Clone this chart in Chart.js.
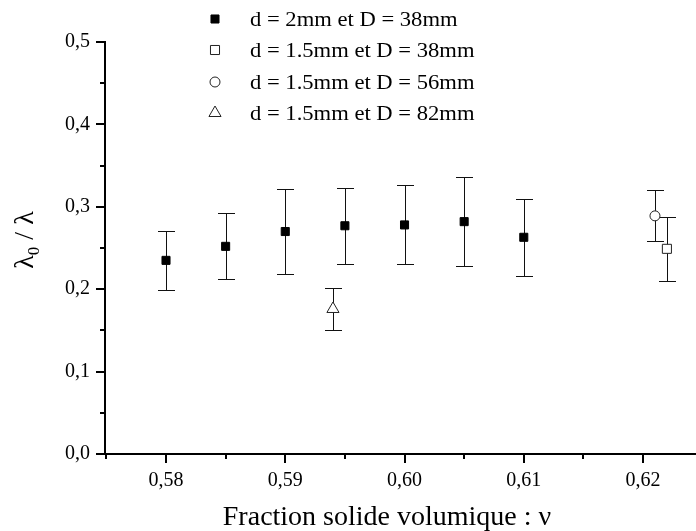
<!DOCTYPE html>
<html>
<head>
<meta charset="utf-8">
<script src="https://cdn.jsdelivr.net/npm/chart.js@4.4.1/dist/chart.umd.min.js"></script>
<style>
  body { margin: 0; background: #fff; }
  canvas { display: block; }
</style>
</head>
<body>
<canvas id="chart" width="696" height="531"></canvas>
<script>
// fraction solide volumique (x), lambda0/lambda (y), demi-barre d'erreur (err)
const xD2D38 = [0.58, 0.585, 0.59, 0.595, 0.60, 0.605, 0.61];
const yD2D38 = [0.235, 0.252, 0.270, 0.277, 0.278, 0.282, 0.263];
const errD2D38 = [0.036, 0.040, 0.051, 0.046, 0.048, 0.054, 0.047];

const xD15D38 = [0.622];
const yD15D38 = [0.249];
const errD15D38 = [0.039];

const xD15D56 = [0.621];
const yD15D56 = [0.289];
const errD15D56 = [0.031];

const xD15D82 = [0.594];
const yD15D82 = [0.176];
const errD15D82 = [0.025];

const seriesLabels = [
  'd = 2mm et D = 38mm',
  'd = 1.5mm et D = 38mm',
  'd = 1.5mm et D = 56mm',
  'd = 1.5mm et D = 82mm',
];

const xTicks = [0.58, 0.59, 0.60, 0.61, 0.62];
const xTickLabels = ['0,58', '0,59', '0,60', '0,61', '0,62'];
const yTicks = [0, 0.1, 0.2, 0.3, 0.4, 0.5];
const yTickLabels = ['0,0', '0,1', '0,2', '0,3', '0,4', '0,5'];

const xTitle = 'Fraction solide volumique : \u03BD';

function points(xs, ys) {
  return xs.map((x, i) => ({ x: x, y: ys[i] }));
}

function tickLabel(values, labels, v) {
  const i = values.findIndex((t) => Math.abs(t - v) < 1e-6);
  return i >= 0 ? labels[i] : '';
}

const SERIF = '"Liberation Serif", "Times New Roman", serif';

const errorBars = {
  id: 'errorBars',
  beforeDatasetsDraw(chart) {
    const ctx = chart.ctx;
    const xs = chart.scales.x;
    const ys = chart.scales.y;
    ctx.save();
    ctx.strokeStyle = '#111';
    ctx.lineWidth = 1;
    chart.data.datasets.forEach((ds) => {
      ds.data.forEach((p, i) => {
        const x = Math.round(xs.getPixelForValue(p.x)) + 0.5;
        const top = Math.round(ys.getPixelForValue(p.y + ds.errors[i])) + 0.5;
        const bot = Math.round(ys.getPixelForValue(p.y - ds.errors[i])) + 0.5;
        ctx.beginPath();
        ctx.moveTo(x, top);
        ctx.lineTo(x, bot);
        ctx.moveTo(x - 8.5, top);
        ctx.lineTo(x + 8.5, top);
        ctx.moveTo(x - 8.5, bot);
        ctx.lineTo(x + 8.5, bot);
        ctx.stroke();
      });
    });
    ctx.restore();
  },
};

const decor = {
  id: 'decor',
  afterDraw(chart) {
    const ctx = chart.ctx;
    const xs = chart.scales.x;
    const ys = chart.scales.y;
    const area = chart.chartArea;
    ctx.save();

    // tick marks, outward, long for labelled ticks
    ctx.strokeStyle = '#000';
    ctx.lineWidth = 2;
    ctx.beginPath();
    ys.ticks.forEach((t) => {
      const y = Math.round(ys.getPixelForValue(t.value));
      const len = t.label ? 9 : 5;
      ctx.moveTo(area.left - len, y);
      ctx.lineTo(area.left, y);
    });
    xs.ticks.forEach((t) => {
      const x = Math.round(xs.getPixelForValue(t.value));
      const len = t.label ? 9 : 5;
      ctx.moveTo(x, area.bottom);
      ctx.lineTo(x, area.bottom + len);
    });
    ctx.stroke();

    // legend (text is a bit wide in the original)
    ctx.fillStyle = '#000';
    ctx.font = '20px ' + SERIF;
    ctx.textAlign = 'left';
    ctx.textBaseline = 'alphabetic';
    const rows = [19, 50, 82, 113];
    chart.data.datasets.forEach((ds, i) => {
      ctx.save();
      ctx.fillStyle = ds.backgroundColor;
      ctx.strokeStyle = ds.borderColor;
      ctx.lineWidth = ds.borderWidth;
      Chart.helpers.drawPoint(ctx, {
        pointStyle: ds.pointStyle,
        radius: ds.pointRadius,
        rotation: 0,
        borderWidth: ds.borderWidth,
      }, 215, rows[i]);
      ctx.restore();
      ctx.save();
      ctx.translate(250, rows[i] + 7);
      ctx.scale(1.13, 1);
      ctx.fillText(ds.label, 0, 0);
      ctx.restore();
    });

    // x title
    ctx.font = '28px ' + SERIF;
    ctx.textAlign = 'center';
    ctx.fillText(xTitle, 387, 525);

    // y title: lambda0 / lambda, rotated
    ctx.translate(33, 240);
    ctx.rotate(-Math.PI / 2);
    ctx.textAlign = 'left';
    ctx.font = '28px ' + SERIF;
    const a = '\u03BB';
    const sub = '0';
    const b = ' / \u03BB';
    const wa = ctx.measureText(a).width;
    const wb = ctx.measureText(b).width;
    ctx.font = '17px ' + SERIF;
    const ws = ctx.measureText(sub).width;
    let x0 = -(wa + ws + wb) / 2;
    ctx.font = '28px ' + SERIF;
    ctx.fillText(a, x0, 0);
    ctx.font = '17px ' + SERIF;
    ctx.fillText(sub, x0 + wa, 6);
    ctx.font = '28px ' + SERIF;
    ctx.fillText(b, x0 + wa + ws, 0);

    ctx.restore();
  },
};

Chart.defaults.font.family = SERIF;
Chart.defaults.color = '#000';

new Chart(document.getElementById('chart').getContext('2d'), {
  type: 'scatter',
  data: {
    datasets: [
      {
        label: seriesLabels[0],
        data: points(xD2D38, yD2D38),
        errors: errD2D38,
        pointStyle: 'rect',
        pointRadius: 5.7,
        backgroundColor: '#000',
        borderColor: '#000',
        borderWidth: 1,
      },
      {
        label: seriesLabels[1],
        data: points(xD15D38, yD15D38),
        errors: errD15D38,
        pointStyle: 'rect',
        pointRadius: 6.4,
        backgroundColor: '#fff',
        borderColor: '#222',
        borderWidth: 1,
      },
      {
        label: seriesLabels[2],
        data: points(xD15D56, yD15D56),
        errors: errD15D56,
        pointStyle: 'circle',
        pointRadius: 5,
        backgroundColor: '#fff',
        borderColor: '#222',
        borderWidth: 1,
      },
      {
        label: seriesLabels[3],
        data: points(xD15D82, yD15D82),
        errors: errD15D82,
        pointStyle: 'triangle',
        pointRadius: 7,
        backgroundColor: '#fff',
        borderColor: '#222',
        borderWidth: 1,
      },
    ],
  },
  options: {
    responsive: false,
    devicePixelRatio: 1,
    animation: false,
    events: [],
    layout: {
      autoPadding: false,
      padding: { top: 42, right: 0, bottom: 0, left: 0 },
    },
    plugins: {
      legend: { display: false },
      tooltip: { enabled: false },
    },
    scales: {
      x: {
        type: 'linear',
        min: 0.574885,
        max: 0.62444,
        grid: { display: false, drawTicks: false },
        border: { display: true, color: '#000', width: 2 },
        ticks: {
          stepSize: 0.005,
          maxTicksLimit: 100,
          autoSkip: false,
          includeBounds: false,
          maxRotation: 0,
          padding: 15,
          font: { size: 20 },
          callback: (v) => tickLabel(xTicks, xTickLabels, v),
        },
        afterFit: (scale) => { scale.height = 77; },
      },
      y: {
        type: 'linear',
        min: 0,
        max: 0.5,
        grid: { display: false, drawTicks: false },
        border: { display: true, color: '#000', width: 2 },
        ticks: {
          stepSize: 0.05,
          maxTicksLimit: 100,
          autoSkip: false,
          includeBounds: false,
          padding: 15,
          font: { size: 20 },
          callback: (v) => tickLabel(yTicks, yTickLabels, v),
        },
        afterFit: (scale) => { scale.width = 105; },
      },
    },
  },
  plugins: [errorBars, decor],
});
</script>
</body>
</html>
